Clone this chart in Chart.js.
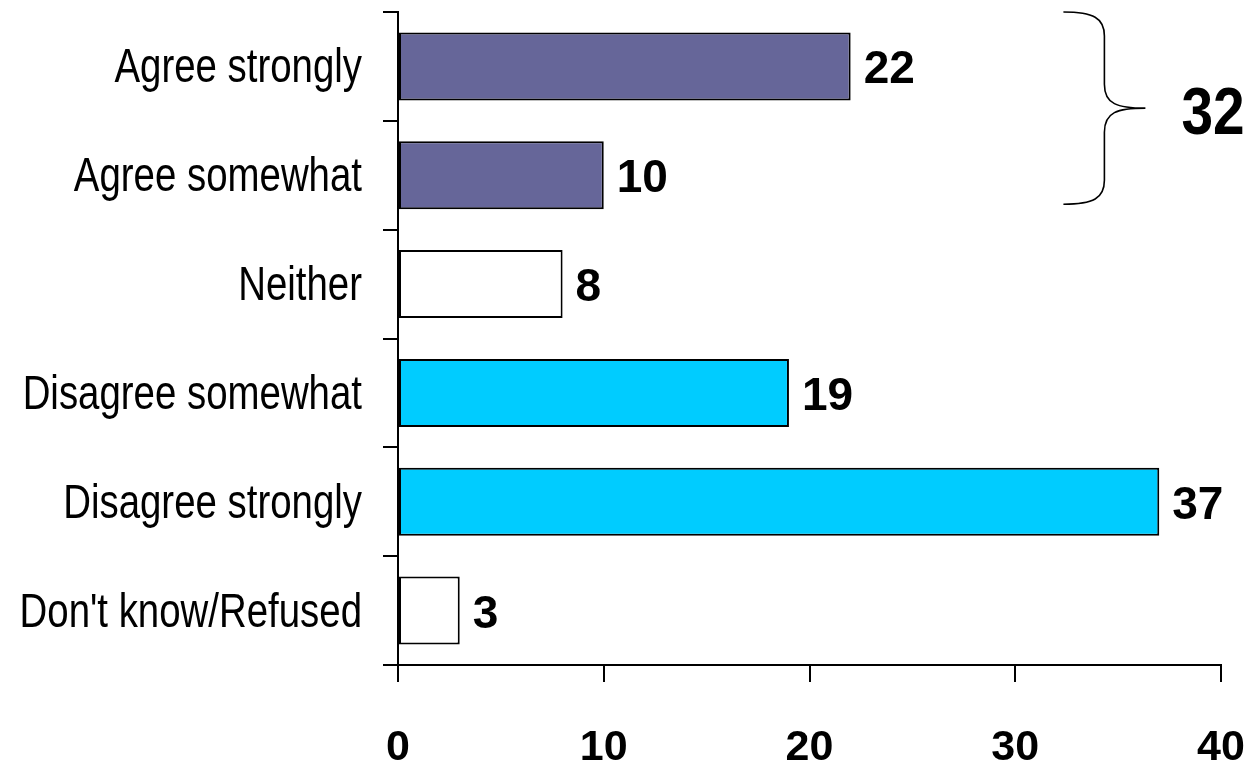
<!DOCTYPE html>
<html>
<head>
<meta charset="utf-8">
<script src="https://cdn.jsdelivr.net/npm/chart.js@4.4.1/dist/chart.umd.min.js"></script>
<style>
  html,body{margin:0;padding:0;background:#fff;}
  #wrap{width:1251px;height:762px;position:relative;}
</style>
</head>
<body>
<div id="wrap"><canvas id="graf"></canvas></div>
<script>
// dati
var categorie=["Agree strongly","Agree somewhat","Neither","Disagree somewhat","Disagree strongly","Don't know/Refused"];
var valori=[22,10,8,19,37,3];
var colori=["#666699","#666699","#ffffff","#00ccff","#00ccff","#ffffff"];
var tickX=[0,10,20,30,40];
var totaleAgree=32;
var gruppoAgree=[0,1]; // indici delle barre nella graffa

// testo "stretto" tipo Arial Narrow (Liberation Sans compresso in orizzontale)
function testoStretto(ctx,txt,x,y,sx,align){
  ctx.save();
  ctx.translate(x,y);
  ctx.scale(sx,1);
  ctx.textAlign=align;
  ctx.fillText(txt,0,0);
  ctx.restore();
}

var categorieY={
  id:"categorieY",
  afterDraw:function(chart){
    var ctx=chart.ctx;
    var y=chart.scales.y;
    ctx.save();
    ctx.fillStyle="#000";
    ctx.font="48px 'Liberation Sans', Arial, sans-serif";
    ctx.textBaseline="alphabetic";
    categorie.forEach(function(c,i){
      testoStretto(ctx,c,y.right-36,y.getPixelForValue(i)+16,0.8,"right");
    });
    ctx.restore();
  }
};

var etichette={
  id:"etichette",
  afterDatasetsDraw:function(chart){
    var ctx=chart.ctx;
    var meta=chart.getDatasetMeta(0);
    ctx.save();
    ctx.fillStyle="#000";
    ctx.font="bold 46px 'Liberation Sans', Arial, sans-serif";
    ctx.textBaseline="alphabetic";
    ctx.textAlign="left";
    meta.data.forEach(function(bar,i){
      ctx.fillText(valori[i].toString(),bar.x+13,bar.y+17);
    });
    ctx.restore();
  }
};

var graffa={
  id:"graffa",
  afterDraw:function(chart){
    var ctx=chart.ctx;
    var y=chart.scales.y;
    var x=chart.scales.x;
    var meta=chart.getDatasetMeta(0);
    var b1=meta.data[gruppoAgree[1]];
    var top=y.top;
    var bot=b1.y+b1.height/2-5;
    var mid=(top+bot)/2;
    var x0=x.getPixelForValue(totaleAgree)+7;
    var xv=x0+41;
    var xp=xv+41;
    ctx.save();
    ctx.strokeStyle="#000";
    ctx.lineWidth=1.6;
    ctx.beginPath();
    ctx.moveTo(x0,top);
    ctx.bezierCurveTo(x0+30,top,xv,top+6,xv,top+24);
    ctx.lineTo(xv,mid-24);
    ctx.bezierCurveTo(xv,mid-4,xp-28,mid,xp,mid);
    ctx.bezierCurveTo(xp-28,mid,xv,mid+4,xv,mid+24);
    ctx.lineTo(xv,bot-24);
    ctx.bezierCurveTo(xv,bot-6,x0+30,bot,x0,bot);
    ctx.stroke();
    ctx.fillStyle="#000";
    ctx.font="bold 66px 'Liberation Sans', Arial, sans-serif";
    ctx.textBaseline="alphabetic";
    testoStretto(ctx,totaleAgree.toString(),xp+36,mid+26,0.86,"left");
    ctx.restore();
  }
};

var grafico=new Chart("graf",{
  type:"bar",
  data:{
    labels:categorie,
    datasets:[{
      data:valori,
      backgroundColor:colori,
      borderColor:"#000",
      borderWidth:2,
      borderSkipped:false,
      categoryPercentage:1,
      barPercentage:0.625
    }]
  },
  options:{
    indexAxis:"y",
    responsive:true,
    maintainAspectRatio:false,
    animation:false,
    layout:{padding:{top:12,right:30,bottom:0,left:0}},
    plugins:{legend:{display:false},tooltip:{enabled:false}},
    scales:{
      x:{
        min:0,max:40,
        afterBuildTicks:function(s){s.ticks=tickX.map(function(v){return {value:v};});},
        border:{color:"#000",width:2},
        grid:{drawOnChartArea:false,drawTicks:true,tickLength:17,color:"#000",lineWidth:2},
        ticks:{color:"#000",padding:40,maxRotation:0,font:{family:"'Liberation Sans', Arial, sans-serif",size:43,weight:"bold"}},
        afterFit:function(s){s.height=97;s.paddingLeft=0;s.paddingRight=0;}
      },
      y:{
        border:{color:"#000",width:2},
        grid:{drawOnChartArea:false,drawTicks:true,tickLength:15,color:"#000",lineWidth:2,offset:true},
        ticks:{display:false},
        afterFit:function(s){s.width=398;s.paddingTop=0;s.paddingBottom=0;}
      }
    }
  },
  plugins:[etichette,categorieY,graffa]
});
</script>
</body>
</html>
